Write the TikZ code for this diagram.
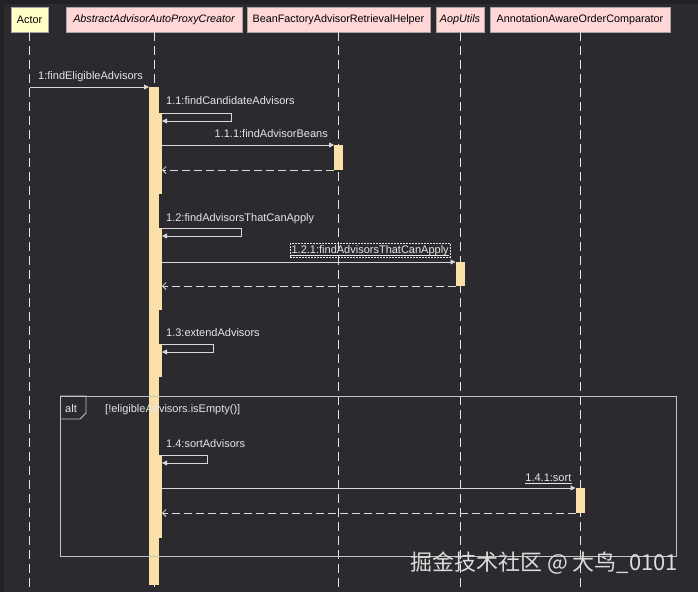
\documentclass[tikz,border=0pt]{standalone}
\usepackage{fontspec}
\setmainfont{Liberation Sans}
\newfontfamily\cjkfont{Noto Sans CJK SC}
\usepackage{tikz}
\usetikzlibrary{positioning,arrows.meta,calc}
\definecolor{canvas}   {HTML}{2B2B2F}
\definecolor{edgec}    {HTML}{222225}
\definecolor{actorbg}  {HTML}{FFFFC6}
\definecolor{partbg}   {HTML}{FFD7D7}
\definecolor{partline} {HTML}{A6A6A6}
\definecolor{lifec}    {HTML}{E4E4E4}
\definecolor{msgc}     {HTML}{D9D9D9}
\definecolor{framec}   {HTML}{C4C4C4}
\definecolor{barc}     {HTML}{FADFA9}
\definecolor{txtc}     {HTML}{E6E6E6}
\definecolor{wmc}      {HTML}{DCDCDC}
\tikzset{
  part/.style    = {draw=partline, fill=partbg, text=black, line width=0.7pt,
                    minimum height=25pt, inner sep=3pt, outer sep=0pt,
                    font=\fontsize{10.8}{12}\selectfont},
  partit/.style  = {part, font=\fontsize{10.8}{12}\selectfont\itshape},
  actorbox/.style= {part, fill=actorbg},
  life/.style    = {draw=lifec, line width=0.8pt, dash pattern=on 9pt off 5pt},
  bar/.style     = {fill=barc, minimum width=10pt, inner sep=0pt, outer sep=0pt},
  subbar/.style  = {bar, minimum width=8pt},
  callbar/.style = {bar, minimum width=9pt},
  call/.style    = {-{Triangle[length=5pt,width=5pt]}, draw=msgc, line width=0.8pt},
  reply/.style   = {-{Straight Barb[length=3.5pt,width=7pt]}, draw=msgc,
                    line width=0.8pt, dash pattern=on 8pt off 4pt},
  lbl/.style     = {text=txtc, inner sep=0pt, font=\fontsize{11}{13}\selectfont},
  selbox/.style  = {lbl, draw=txtc, line width=0.5pt, dash pattern=on 2pt off 1pt,
                    inner sep=1.5pt},
  uline/.style   = {draw=txtc, line width=0.6pt},
  frame/.style   = {draw=framec, line width=0.8pt},
  wmark/.style   = {text=wmc, inner sep=0pt, font=\cjkfont\fontsize{22}{24}\selectfont},
}
\begin{document}
\begin{tikzpicture}[x=1pt, y=-1pt]
  \useasboundingbox (0,0) rectangle (698,592);
  \fill[canvas] (0,0) rectangle (698,592);
  \fill[edgec] (0,0) rectangle (4,592);
  \fill[edgec] (0,0) rectangle (698,4);

  % participants
  \node[actorbox, minimum width=37pt] (actor) at (29.5,19.5) {Actor};
  \node[partit, minimum width=176pt] (apc)  [right=18pt of actor] {AbstractAdvisorAutoProxyCreator};
  \node[part,   minimum width=183pt] (bfh)  [right=5pt of apc]    {BeanFactoryAdvisorRetrievalHelper};
  \node[partit, minimum width=48pt]  (aop)  [right=6pt of bfh]    {AopUtils};
  \node[part,   minimum width=180pt] (aaoc) [right=6pt of aop]    {AnnotationAwareOrderComparator};

  \foreach \p in {actor,apc,bfh,aop,aaoc}
    \draw[life] (\p.south) -- (\p.south |- 0,592);

  % activations
  \node[bar, minimum height=498pt, anchor=north] (a1) at (apc.south |- 0,87) {};
  \node[subbar, minimum height=81pt, anchor=north west] (n1) at (a1.north |- 0,113) {};
  \node[subbar, minimum height=82pt, anchor=north west] (n2) at (a1.north |- 0,228) {};
  \node[subbar, minimum height=33pt, anchor=north west] (n3) at (a1.north |- 0,344) {};
  \node[subbar, minimum height=83pt, anchor=north west] (n4) at (a1.north |- 0,455) {};
  \node[callbar, minimum height=25pt, anchor=north] (b1) at (bfh.south |- 0,145) {};
  \node[callbar, minimum height=24pt, anchor=north] (b2) at (aop.south |- 0,262) {};
  \node[callbar, minimum height=25pt, anchor=north] (b4) at (aaoc.south |- 0,488) {};

  % alt fragment
  \node[frame, minimum width=616pt, minimum height=160pt, anchor=north west] (alt) at (60,396) {};
  \draw[frame] (alt.north west) -- ++(26,0) -- ++(0,17) -- ++(-6,6) -- ++(-20,0);
  \node[lbl, anchor=base west] (altk) at (65,412) {alt};
  \node[lbl, anchor=base west] (guard) at (105,412) {[!eligibleAdvisors.isEmpty()]};

  % messages
  \draw[call] (actor |- a1.north) -- (a1.north west);
  \node[lbl, anchor=base east] (l1) at ($(a1.north west)+(-6,-8)$) {1:findEligibleAdvisors};

  \draw[call] (n1.north east) -- ++(69,0) |- ($(n1.north east)+(0,8)$);
  \node[lbl, anchor=base west] (l11) at ($(n1.north east)+(4,-9)$) {1.1:findCandidateAdvisors};

  \draw[call] (n1.east |- b1.north) -- (b1.north west);
  \draw[reply] (b1.south west) -- (n1.east |- b1.south);
  \node[lbl, anchor=base east] (l111) at ($(b1.north west)+(-6,-8)$) {1.1.1:findAdvisorBeans};

  \draw[call] (n2.north east) -- ++(79,0) |- ($(n2.north east)+(0,8)$);
  \node[lbl, anchor=base west] (l12) at ($(n2.north east)+(4,-7)$) {1.2:findAdvisorsThatCanApply};

  \draw[call] (n2.east |- b2.north) -- (b2.north west);
  \draw[reply] (b2.south west) -- (n2.east |- b2.south);
  \node[selbox, anchor=base east] (l121) at ($(b2.north west)+(-5,-9)$) {1.2.1:findAdvisorsThatCanApply};
  \draw[uline] ($(l121.south west)+(1.5,-1.5)$) -- ($(l121.south east)+(-1.5,-1.5)$);

  \draw[call] (n3.north east) -- ++(51,0) |- ($(n3.north east)+(0,8)$);
  \node[lbl, anchor=base west] (l13) at ($(n3.north east)+(4,-8)$) {1.3:extendAdvisors};

  \draw[call] (n4.north east) -- ++(45,0) |- ($(n4.north east)+(0,8)$);
  \node[lbl, anchor=base west] (l14) at ($(n4.north east)+(4,-8)$) {1.4:sortAdvisors};

  \draw[call] (n4.east |- b4.north) -- (b4.north west);
  \draw[reply] (b4.south west) -- (n4.east |- b4.south);
  \node[lbl, anchor=base east] (l141) at ($(b4.north west)+(-4,-7)$) {1.4.1:sort};
  \draw[uline] ($(l141.south west)+(0,1.5)$) -- ($(l141.south east)+(0,1.5)$);

  \node[wmark, anchor=base west] (wm) at (410,570) {掘金技术社区 @ 大鸟\_0101};
\end{tikzpicture}
\end{document}
